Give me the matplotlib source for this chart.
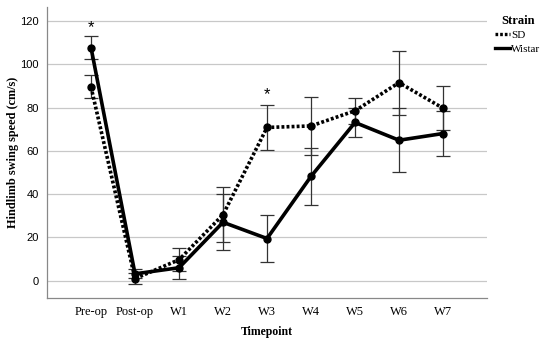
import numpy as np
import matplotlib
matplotlib.use("Agg")
import matplotlib.pyplot as plt
from matplotlib.lines import Line2D

timepoints = ["Pre-op", "Post-op", "W1", "W2", "W3", "W4", "W5", "W6", "W7"]
sd_mean = [89.5, 1.0, 9.7, 30.5, 70.8, 71.5, 78.5, 91.5, 79.7]
sd_err = [5.3, 2.5, 5.2, 12.8, 10.6, 13.2, 6.1, 14.8, 10.2]
wistar_mean = [107.7, 3.2, 6.0, 27.0, 19.5, 48.2, 73.1, 64.9, 68.0]
wistar_err = [5.4, 2.0, 5.2, 12.9, 10.8, 13.2, 6.5, 14.7, 10.3]
star_pos = [0, 4]
star_y = [117, 86]

serif = "Liberation Serif"
sans = "Liberation Sans"
dotted = (0, (0.8, 0.6))

fig = plt.figure(figsize=(5.5, 3.43), dpi=100)
ax = fig.add_axes([0.0855, 0.131, 0.80, 0.849])
x = np.arange(len(timepoints))

ax.errorbar(x, sd_mean, yerr=sd_err, color="black", ls=dotted, lw=2.6,
            marker="o", ms=5, ecolor="#333333", elinewidth=0.9, capsize=5,
            capthick=0.9, zorder=3)
ax.errorbar(x, wistar_mean, yerr=wistar_err, color="black", ls="-", lw=2.6,
            marker="o", ms=5, ecolor="#333333", elinewidth=0.9, capsize=5,
            capthick=0.9, zorder=3)

for p, yy in zip(star_pos, star_y):
    ax.text(p, yy, "*", ha="center", va="center", fontsize=12, family=sans)

ax.set_xlim(-1, 9)
ax.set_ylim(-8, 126.5)
ax.set_yticks(range(0, 121, 20))
ax.set_xticks(x)
ax.set_xticklabels(timepoints, family=serif, fontsize=9)
for t in ax.get_yticklabels():
    t.set_family(sans)
    t.set_fontsize(8)
ax.tick_params(length=0, pad=6)
ax.yaxis.grid(True, color="#c8c8c8", lw=0.9)
ax.set_axisbelow(True)
for s in ["top", "right"]:
    ax.spines[s].set_visible(False)
for s in ["left", "bottom"]:
    ax.spines[s].set_color("#888888")
    ax.spines[s].set_linewidth(0.9)

ax.set_ylabel("Hindlimb swing speed (cm/s)", family=serif, fontweight="bold",
              fontsize=8.8, va="center")
ax.yaxis.set_label_coords(-0.077, 0.5)
ax.set_xlabel("Timepoint", family=serif, fontweight="bold", fontsize=8.5, va="center")
ax.xaxis.set_label_coords(0.5, -0.117)

h = [Line2D([], [], color="black", ls=dotted, lw=2.4),
     Line2D([], [], color="black", ls="-", lw=2.4)]
leg = ax.legend(h, ["SD", "Wistar"], loc="upper left", bbox_to_anchor=(1.0, 1.0),
                frameon=False, prop={"family": serif, "size": 8},
                handlelength=1.4, handletextpad=0.1, labelspacing=0.35,
                borderaxespad=0.3)
leg.set_title("Strain", prop={"family": serif, "weight": "bold", "size": 9})

fig.savefig("out.png", dpi=100)
